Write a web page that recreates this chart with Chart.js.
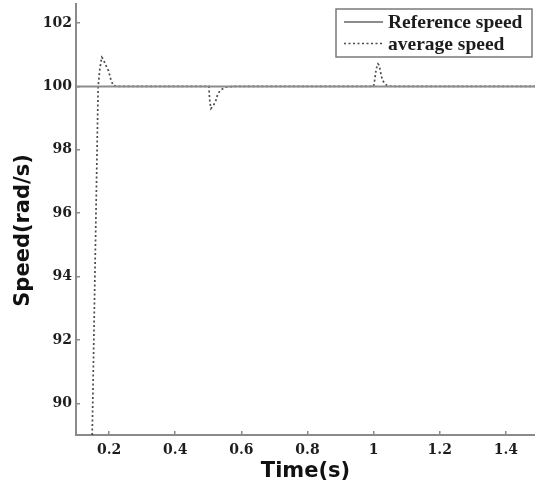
<!DOCTYPE html>
<html>
<head>
<meta charset="utf-8">
<script src="https://cdn.jsdelivr.net/npm/chart.js@4.4.1/dist/chart.umd.min.js"></script>
<style>
  html, body { margin: 0; padding: 0; background: #fff; }
</style>
</head>
<body>
<canvas id="speedChart" width="535" height="483"></canvas>
<script>
// speed response of the drive, time in s, speed in rad/s
const refTime = [0.1, 1.488];
const refSpeed = [100, 100];

const avgTime = [0.149, 0.167, 0.172, 0.178, 0.183, 0.188, 0.198, 0.206, 0.213, 0.227,
                 0.502, 0.503, 0.505, 0.508, 0.516, 0.523, 0.529, 0.539, 0.555, 0.576,
                 1.0, 1.003, 1.005, 1.008, 1.013, 1.017, 1.02, 1.023, 1.027, 1.035, 1.04, 1.055, 1.488];
const avgSpeed = [89, 100, 100.55, 100.92, 100.85, 100.71, 100.5, 100.19, 100.03, 100,
                  100, 99.75, 99.5, 99.3, 99.4, 99.56, 99.77, 99.9, 99.98, 100,
                  100, 100.19, 100.35, 100.56, 100.71, 100.66, 100.5, 100.35, 100.19, 100.08, 100.03, 100, 100];

const xTicks = [0.2, 0.4, 0.6, 0.8, 1, 1.2, 1.4];
const yTicks = [90, 92, 94, 96, 98, 100, 102];

function toPoints(xs, ys) {
  return xs.map((x, i) => ({ x: x, y: ys[i] }));
}

const tickFont = { family: 'DejaVu Serif', size: 14, weight: 'bold' };
const titleFont = { family: 'DejaVu Sans', size: 21, weight: 'bold' };

// boxed legend in the top right corner of the plot
const boxLegend = {
  id: 'boxLegend',
  afterDraw(chart) {
    const ctx = chart.ctx;
    const x0 = 336, y0 = 9, w = 196, h = 48;
    ctx.save();
    ctx.fillStyle = '#fff';
    ctx.fillRect(x0, y0, w, h);
    ctx.strokeStyle = '#7a7a7a';
    ctx.lineWidth = 1.5;
    ctx.strokeRect(x0, y0, w, h);
    ctx.font = 'bold 19.5px "Liberation Serif"';
    ctx.textBaseline = 'middle';
    chart.data.datasets.forEach((ds, i) => {
      const y = y0 + 13 + i * 21.5;
      ctx.beginPath();
      ctx.strokeStyle = ds.borderColor;
      ctx.lineWidth = ds.borderWidth;
      ctx.setLineDash(ds.borderDash || []);
      ctx.moveTo(x0 + 8, y);
      ctx.lineTo(x0 + 47, y);
      ctx.stroke();
      ctx.setLineDash([]);
      ctx.fillStyle = '#1c1c1c';
      ctx.fillText(ds.label, x0 + 52, y + 1);
    });
    ctx.restore();
  }
};

new Chart(document.getElementById('speedChart').getContext('2d'), {
  type: 'line',
  data: {
    datasets: [{
      label: 'Reference speed',
      data: toPoints(refTime, refSpeed),
      borderColor: '#8c8c8c',
      borderWidth: 2,
      pointRadius: 0,
      tension: 0
    }, {
      label: 'average speed',
      data: toPoints(avgTime, avgSpeed),
      borderColor: '#4a4a4a',
      borderWidth: 1.7,
      borderDash: [2, 2.5],
      pointRadius: 0,
      tension: 0
    }]
  },
  options: {
    responsive: false,
    animation: false,
    layout: { padding: { top: 4, right: 0, left: 0, bottom: 0 } },
    plugins: {
      legend: { display: false },
      tooltip: { enabled: false }
    },
    scales: {
      x: {
        type: 'linear',
        min: 0.1,
        max: 1.488,
        afterBuildTicks: s => { s.ticks = xTicks.map(v => ({ value: v })); },
        afterFit: s => { s.height = 48; s.paddingLeft = 0; s.paddingRight = 0; },
        border: { color: '#8a8a8a', width: 2 },
        grid: { drawOnChartArea: false, tickLength: -4, color: '#8a8a8a', lineWidth: 1.5 },
        ticks: { font: tickFont, color: '#1e1e1e', padding: 11, maxRotation: 0,
                 callback: v => String(v) },
        title: { display: true, text: 'Time(s)', font: titleFont, color: '#111',
                 padding: { top: 0, bottom: -1 } }
      },
      y: {
        min: 89,
        max: 102.6,
        afterBuildTicks: s => { s.ticks = yTicks.map(v => ({ value: v })); },
        afterFit: s => { s.width = 76; s.paddingTop = 0; s.paddingBottom = 0; },
        border: { color: '#8a8a8a', width: 2 },
        grid: { drawOnChartArea: false, tickLength: -4, color: '#8a8a8a', lineWidth: 1.5 },
        ticks: { font: tickFont, color: '#1e1e1e', padding: 8 },
        // trailing spaces push the rotated title a little below the middle
        title: { display: true, text: 'Speed(rad/s)   ', font: titleFont, color: '#111',
                 padding: { top: 11, bottom: 0 } }
      }
    }
  },
  plugins: [boxLegend]
});
</script>
</body>
</html>
